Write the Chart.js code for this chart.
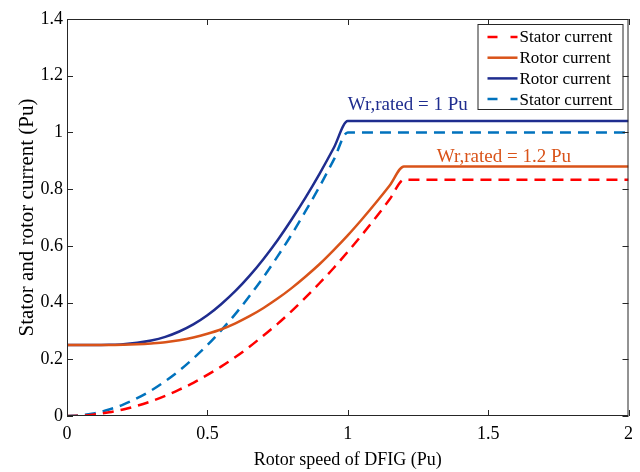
<!DOCTYPE html>
<html>
<head>
<meta charset="utf-8">
<script src="https://cdn.jsdelivr.net/npm/chart.js@4.4.1/dist/chart.umd.min.js"></script>
<style>
  html, body { margin: 0; padding: 0; background: #fff; }
  #wrap { width: 640px; height: 472px; }
</style>
</head>
<body>
<div id="wrap"><canvas id="currentChart" width="640" height="472"></canvas></div>
<script>
// Rotor speed (Pu)
const speed = [0, 0.05, 0.1, 0.15, 0.2, 0.25, 0.3, 0.35, 0.4, 0.45, 0.5, 0.55, 0.6,
  0.65, 0.7, 0.75, 0.8, 0.85, 0.9, 0.95, 1.0, 1.05, 1.1, 1.15, 1.2,
  1.3, 1.4, 1.5, 1.6, 1.7, 1.8, 1.9, 2.0];

// Wr,rated = 1.2 Pu
const statorRated12 = [0, 0.001, 0.006, 0.013, 0.023, 0.036, 0.052, 0.071, 0.093, 0.117, 0.145, 0.175, 0.208,
  0.244, 0.284, 0.325, 0.37, 0.418, 0.469, 0.522, 0.579, 0.638, 0.70, 0.765, 0.833,
  0.833, 0.833, 0.833, 0.833, 0.833, 0.833, 0.833, 0.833];
const rotorRated12 = [0.25, 0.25, 0.25, 0.25, 0.251, 0.253, 0.256, 0.26, 0.267, 0.277, 0.29, 0.306, 0.327,
  0.352, 0.381, 0.414, 0.451, 0.492, 0.536, 0.585, 0.637, 0.693, 0.752, 0.814, 0.88,
  0.88, 0.88, 0.88, 0.88, 0.88, 0.88, 0.88, 0.88];

// Wr,rated = 1 Pu
const rotorRated1 = [0.25, 0.25, 0.25, 0.251, 0.253, 0.258, 0.266, 0.279, 0.298, 0.323, 0.355, 0.395, 0.441,
  0.494, 0.554, 0.62, 0.693, 0.771, 0.855, 0.945, 1.04, 1.04, 1.04, 1.04, 1.04,
  1.04, 1.04, 1.04, 1.04, 1.04, 1.04, 1.04, 1.04];
const statorRated1 = [0, 0.003, 0.01, 0.023, 0.04, 0.063, 0.09, 0.123, 0.16, 0.203, 0.25, 0.303, 0.36,
  0.423, 0.49, 0.563, 0.64, 0.723, 0.81, 0.903, 1.0, 1.0, 1.0, 1.0, 1.0,
  1.0, 1.0, 1.0, 1.0, 1.0, 1.0, 1.0, 1.0];

const seriesLabels = ['Stator current', 'Rotor current', 'Rotor current', 'Stator current'];
const annotations = [
  { text: 'Wr,rated = 1 Pu', x: 1.0, y: 1.097, color: '#1f2d8f' },
  { text: 'Wr,rated = 1.2 Pu', x: 1.317, y: 0.913, color: '#d95319' }
];

const serif = "'Liberation Serif', 'Times New Roman', serif";
const toPoints = (ys) => speed.map((x, i) => ({ x: x, y: ys[i] }));
const fmt = (v) => String(+Number(v).toFixed(1));

const makeSet = (label, ys, color, dashed) => ({
  label: label,
  data: toPoints(ys),
  borderColor: color,
  backgroundColor: color,
  borderWidth: 2.5,
  borderDash: dashed ? [11, 7] : [],
  pointRadius: 0,
  cubicInterpolationMode: 'monotone',
  fill: false
});

// box, inward ticks, legend box and text labels
const matlabLook = {
  id: 'matlabLook',
  afterDatasetsDraw(chart) {
    const { ctx, chartArea: a, scales } = chart;
    ctx.save();
    ctx.strokeStyle = '#262626';
    ctx.lineWidth = 1;
    ctx.strokeRect(a.left + 0.5, a.top + 0.5, a.right - a.left - 1, a.bottom - a.top - 1);
    ctx.beginPath();
    scales.x.ticks.forEach((t) => {
      const px = Math.round(scales.x.getPixelForValue(t.value)) + 0.5;
      ctx.moveTo(px, a.bottom); ctx.lineTo(px, a.bottom - 6);
      ctx.moveTo(px, a.top); ctx.lineTo(px, a.top + 6);
    });
    scales.y.ticks.forEach((t) => {
      const py = Math.round(scales.y.getPixelForValue(t.value)) + 0.5;
      ctx.moveTo(a.left, py); ctx.lineTo(a.left + 6, py);
      ctx.moveTo(a.right, py); ctx.lineTo(a.right - 6, py);
    });
    ctx.stroke();

    // annotations
    ctx.font = '19px ' + serif;
    ctx.textBaseline = 'middle';
    ctx.textAlign = 'left';
    annotations.forEach((n) => {
      ctx.fillStyle = n.color;
      ctx.fillText(n.text, scales.x.getPixelForValue(n.x), scales.y.getPixelForValue(n.y));
    });

    // legend
    const bw = 145, bh = 85;
    const bx = a.right - 6 - bw, by = a.top + 5;
    ctx.fillStyle = '#fff';
    ctx.fillRect(bx, by, bw, bh);
    ctx.strokeStyle = '#262626';
    ctx.strokeRect(bx + 0.5, by + 0.5, bw, bh);
    ctx.font = '17px ' + serif;
    chart.data.datasets.forEach((ds, i) => {
      const cy = by + 13 + i * 20.7;
      ctx.strokeStyle = ds.borderColor;
      ctx.lineWidth = 2.5;
      ctx.setLineDash(ds.borderDash.length ? [10, 13] : []);
      ctx.beginPath();
      ctx.moveTo(bx + 10, cy); ctx.lineTo(bx + 40, cy);
      ctx.stroke();
      ctx.setLineDash([]);
      ctx.fillStyle = '#000';
      ctx.fillText(ds.label, bx + 42, cy + 1);
    });
    ctx.restore();
  }
};

new Chart(document.getElementById('currentChart'), {
  type: 'line',
  data: {
    datasets: [
      makeSet(seriesLabels[0], statorRated12, '#ff0000', true),
      makeSet(seriesLabels[1], rotorRated12, '#d95319', false),
      makeSet(seriesLabels[2], rotorRated1, '#1f2d8f', false),
      makeSet(seriesLabels[3], statorRated1, '#0072bd', true)
    ]
  },
  options: {
    responsive: false,
    animation: false,
    layout: { padding: { left: 0, right: 6, top: 19, bottom: 0 } },
    plugins: {
      legend: { display: false },
      tooltip: { enabled: false }
    },
    scales: {
      x: {
        type: 'linear',
        min: 0,
        max: 2,
        ticks: { stepSize: 0.5, color: '#000', padding: 7, callback: fmt,
          font: { family: serif, size: 18 } },
        grid: { display: false, drawTicks: false },
        border: { display: false },
        title: { display: true, text: 'Rotor speed of DFIG (Pu)', color: '#000',
          padding: { top: 0, bottom: 1 }, font: { family: serif, size: 18 } },
        afterFit: (s) => { s.height = 56; }
      },
      y: {
        min: 0,
        max: 1.4,
        ticks: { stepSize: 0.2, color: '#000', padding: 4, callback: fmt,
          font: { family: serif, size: 18 } },
        grid: { display: false, drawTicks: false },
        border: { display: false },
        title: { display: true, text: 'Stator and rotor current (Pu)', color: '#000',
          padding: { top: 15, bottom: 0 }, font: { family: serif, size: 21 } },
        afterFit: (s) => { s.width = 67; }
      }
    }
  },
  plugins: [matlabLook]
});
</script>
</body>
</html>
